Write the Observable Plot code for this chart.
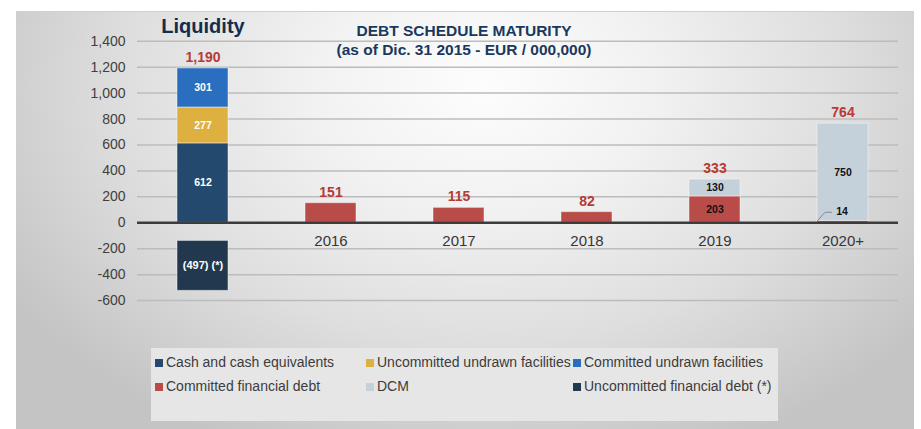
<!DOCTYPE html>
<html>
<head>
<meta charset="utf-8">
<script src="https://cdn.jsdelivr.net/npm/d3@7"></script>
<script src="https://cdn.jsdelivr.net/npm/@observablehq/plot@0.6"></script>
<style>
  html, body { margin: 0; padding: 0; background: #fff; }
  #wrap { position: relative; width: 921px; height: 429px; overflow: hidden; font-family: "Liberation Sans", Arial, sans-serif; }
  #frame { position: absolute; left: 16px; top: 11px; width: 898px; height: 418px;
    background: radial-gradient(ellipse 62% 95% at 52% 18%, #fdfdfd 0%, #f2f2f2 30%, #dedede 65%, #c4c4c4 100%);
    border-top: 1px solid #cfcfcf; box-sizing: border-box; }
  #chart { position: absolute; left: 0; top: 0; }
  .ttl { position: absolute; left: 464px; transform: translateX(-50%); white-space: nowrap; font-weight: bold; font-size: 15.5px; color: #1a385c; }
  #legend { position: absolute; left: 151px; top: 348px; width: 627px; height: 73px; background: #e6e6e6; }
  .li { position: absolute; font-size: 14px; color: #3c3c3c; white-space: nowrap; line-height: 16px; }
  .sw { display: inline-block; width: 8px; height: 8px; margin-right: 3px; vertical-align: 0px; }
</style>
</head>
<body>
<div id="wrap">
  <div id="frame"></div>
  <div id="chart"></div>
  <div class="ttl" style="top:22px">DEBT SCHEDULE MATURITY</div>
  <div class="ttl" style="top:41px">(as of Dic. 31 2015 - EUR / 000,000)</div>
  <div id="legend"></div>
</div>
<script>
// ---- data ----
const categories = ["Liquidity", "2016", "2017", "2018", "2019", "2020+"];
const seriesNames = ["Cash and cash equivalents", "Uncommitted undrawn facilities", "Committed undrawn facilities",
                     "Committed financial debt", "DCM", "Uncommitted financial debt (*)"];
const seriesColors = ["#234a6e", "#deb040", "#2a6ebf", "#b94c49", "#c4d0da", "#22384f"];
const cashEquivalents     = [612, 0, 0, 0, 0, 0];
const uncommittedUndrawn  = [277, 0, 0, 0, 0, 0];
const committedUndrawn    = [301, 0, 0, 0, 0, 0];
const committedDebt       = [0, 151, 115, 82, 203, 14];
const dcm                 = [0, 0, 0, 0, 130, 750];
const totals              = [1190, 151, 115, 82, 333, 764];
const totalLabels         = ["1,190", "151", "115", "82", "333", "764"];
const segmentLabelCategories = ["Liquidity", "2019", "2020+"];
const uncommittedDebtExtent = [-140, -525];
const uncommittedDebtLabel  = "(497) (*)";
const yTicks = [-600, -400, -200, 0, 200, 400, 600, 800, 1000, 1200, 1400];
const legendOrder = [0, 1, 2, 3, 4, 5];

// ---- build tables ----
const seriesValues = [cashEquivalents, uncommittedUndrawn, committedUndrawn, committedDebt, dcm];
const rows = [];
seriesValues.forEach((vals, s) => {
  vals.forEach((v, i) => { if (v > 0) rows.push({category: categories[i], series: seriesNames[s], value: v}); });
});
const totalRows = categories.map((c, i) => ({category: c, total: totals[i], label: totalLabels[i]}));
const negRows = [{category: categories[0], y1: uncommittedDebtExtent[0], y2: uncommittedDebtExtent[1],
                  series: seriesNames[5], label: uncommittedDebtLabel}];
const smallRow = rows.filter(d => d.category === "2020+" && d.series === seriesNames[3]);
const showLabel = d => segmentLabelCategories.includes(d.category) && d !== smallRow[0];

function leader(index, scales) {
  try {
    const x = scales.x, y = scales.y;
    const d = smallRow[0];
    const x0 = x(d.category);
    const y0 = y(0);
    const path = document.createElementNS("http://www.w3.org/2000/svg", "path");
    path.setAttribute("d", `M${x0},${y0 - 1}L${x0 + 8},${y0 - 10}L${x0 + 15},${y0 - 10}`);
    path.setAttribute("fill", "none");
    path.setAttribute("stroke", "#8a8a8a");
    path.setAttribute("stroke-width", "1");
    return path;
  } catch (e) { return null; }
}

const fmt = d3.format(",");
const plot = Plot.plot({
  width: 921,
  height: 429,
  marginLeft: 137,
  marginRight: 23,
  marginTop: 40.7,
  marginBottom: 129,
  style: {background: "transparent", fontFamily: "'Liberation Sans', Arial, sans-serif", fontSize: "14px", color: "#404040"},
  x: {domain: categories, range: [97.5, 947.25], padding: 0.6, axis: null},
  y: {domain: [-600, 1400], range: [300.1, 40.7], ticks: yTicks, tickFormat: d => fmt(d).replace("\u2212", "-"), tickSize: 0, tickPadding: 12, label: null},
  color: {domain: seriesNames, range: seriesColors},
  marks: [
    Plot.ruleY(yTicks.filter(d => d !== 0), {stroke: "#bcbcbc", strokeWidth: 1.5}),
    Plot.barY(rows, {x: "category", y: "value", fill: "series", stroke: "#ffffff", strokeOpacity: 0.45, strokeWidth: 1}),
    Plot.barY(negRows, {x: "category", y1: "y1", y2: "y2", fill: "series", stroke: "#ffffff", strokeOpacity: 0.45, strokeWidth: 1}),
    Plot.ruleY([0], {stroke: "#3c3c3c", strokeWidth: 2.5}),
    Plot.text(rows, Plot.stackY({x: "category", y: "value", text: d => showLabel(d) ? String(d.value) : "", fill: d => d.category === "Liquidity" ? "white" : "#111", fontWeight: "bold", fontSize: 10.5})),
    Plot.text(negRows, {x: "category", y: d => (d.y1 + d.y2) / 2, text: "label", fill: "white", fontWeight: "bold", fontSize: 11}),
    Plot.text(totalRows, {x: "category", y: "total", text: "label", dy: -11, fill: "#b73a36", fontWeight: "bold", fontSize: 14}),
    Plot.text(categories.slice(1), {x: d => d, y: () => 0, text: d => d, dy: 18, fill: "#363636", fontSize: 15}),
    Plot.text([categories[0]], {x: d => d, y: () => 1400, text: () => "Liquidity", dy: -15, fill: "#132d4e", fontWeight: "bold", fontSize: 20}),
    leader,
    Plot.text(smallRow, {x: "category", y: "value", text: d => String(d.value), dx: -1, dy: -9, fill: "#111", fontWeight: "bold", fontSize: 10.5})
  ]
});
document.getElementById("chart").appendChild(plot);

// ---- legend ----
const legendPos = [[4, 6], [215, 6], [422, 6], [4, 30], [215, 30], [422, 30]];
const legend = document.getElementById("legend");
legendOrder.forEach((s, i) => {
  const el = document.createElement("div");
  el.className = "li";
  el.style.left = legendPos[i][0] + "px";
  el.style.top = legendPos[i][1] + "px";
  el.innerHTML = `<span class="sw" style="background:${seriesColors[s]}"></span>${seriesNames[s]}`;
  legend.appendChild(el);
});
</script>
</body>
</html>
